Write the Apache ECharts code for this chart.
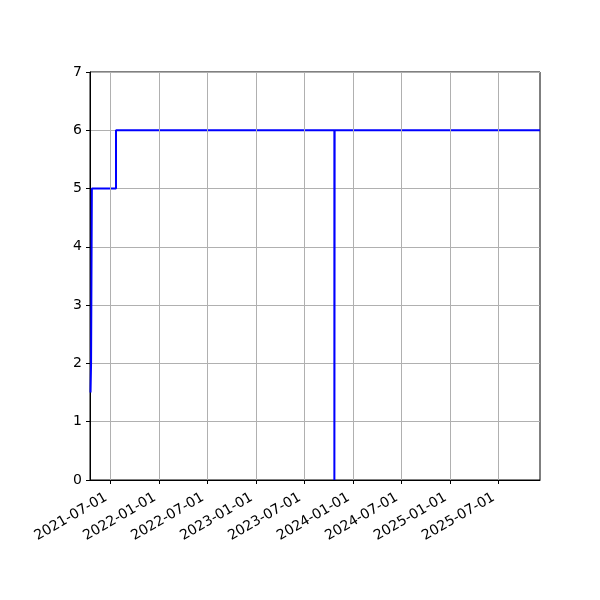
<!DOCTYPE html>
<html>
<head>
<meta charset="utf-8">
<script src="https://cdn.jsdelivr.net/npm/echarts@6/dist/echarts.min.js"></script>
<style>
  html, body { margin: 0; padding: 0; background: #fff; }
  #main { width: 600px; height: 600px; }
</style>
</head>
<body>
<div id="main"></div>
<script>
// step series (value held until the next date)
const dates = ['2021-04-17', '2021-04-19', '2021-04-22', '2021-07-22', '2023-10-23', '2023-10-24', '2025-12-06'];
const values = [1.5, 2, 5, 6, 0, 6, 6];

const xTickDates = ['2021-07-01', '2022-01-01', '2022-07-01', '2023-01-01', '2023-07-01',
  '2024-01-01', '2024-07-01', '2025-01-01', '2025-07-01'];
const xMin = '2021-04-15';
const xMax = '2025-12-06';
const yTicks = [0, 1, 2, 3, 4, 5, 6, 7];

const ts = d => new Date(d + 'T00:00:00Z').getTime();
const pad = n => (n < 10 ? '0' : '') + n;
const fmt = v => {
  const d = new Date(v);
  return d.getUTCFullYear() + '-' + pad(d.getUTCMonth() + 1) + '-' + pad(d.getUTCDate());
};

const chart = echarts.init(document.getElementById('main'));
const font = 'DejaVu Sans';
const xTicks = xTickDates.map(ts);

chart.setOption({
  animation: false,
  grid: {
    left: 90, right: 60, top: 72, bottom: 120,
    show: true, borderColor: '#000', borderWidth: 1, backgroundColor: 'transparent'
  },
  xAxis: {
    type: 'value',
    min: ts(xMin),
    max: ts(xMax),
    axisLine: { show: true, onZero: false, lineStyle: { color: '#000', width: 1 } },
    axisTick: { show: true, customValues: xTicks, length: 4, lineStyle: { color: '#000' } },
    axisLabel: {
      customValues: xTicks,
      rotate: 30,
      color: '#000',
      fontFamily: font,
      fontSize: 14,
      margin: 14,
      padding: [0, 5, 0, 0],
      formatter: v => fmt(v)
    },
    splitLine: { show: false }
  },
  yAxis: {
    type: 'value',
    min: yTicks[0],
    max: yTicks[yTicks.length - 1],
    interval: 1,
    axisLine: { show: true, lineStyle: { color: '#000', width: 1 } },
    axisTick: { show: true, length: 4, lineStyle: { color: '#000' } },
    axisLabel: { color: '#000', fontFamily: font, fontSize: 14, margin: 8 },
    splitLine: { show: true, lineStyle: { color: '#b0b0b0', width: 1 } }
  },
  series: [
    {
      // vertical grid lines at the date ticks
      type: 'line',
      data: [],
      silent: true,
      markLine: {
        symbol: 'none',
        silent: true,
        label: { show: false },
        lineStyle: { color: '#b0b0b0', width: 1, type: 'solid' },
        data: xTicks.map(t => ({ xAxis: t }))
      },
      z: 1
    },
    {
      type: 'line',
      step: 'end',
      showSymbol: false,
      data: dates.map((d, i) => [ts(d), values[i]]),
      lineStyle: { color: '#0000ff', width: 2 },
      itemStyle: { color: '#0000ff' },
      z: 3
    }
  ]
});
</script>
</body>
</html>
